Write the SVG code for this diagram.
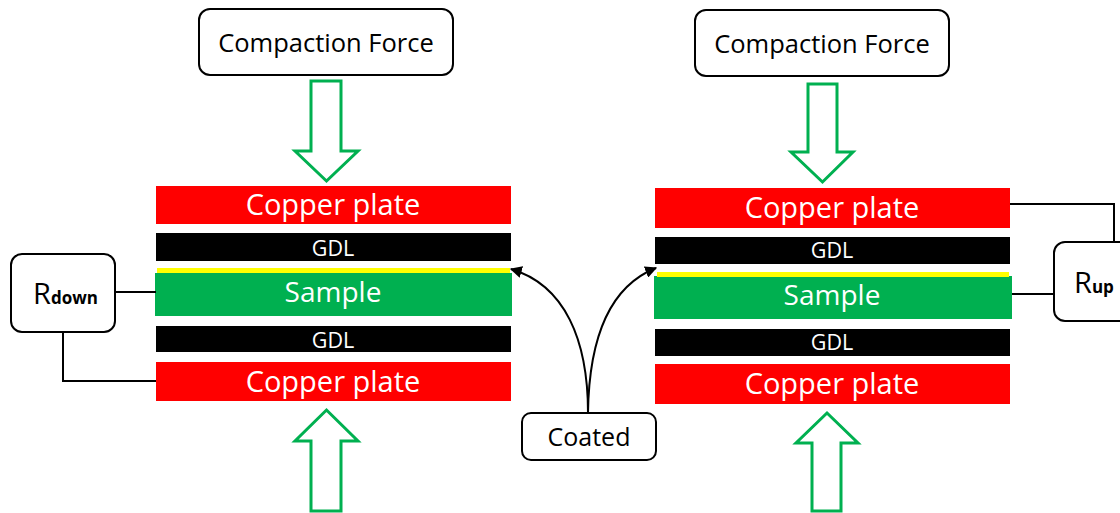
<svg xmlns="http://www.w3.org/2000/svg" width="1120" height="513" viewBox="0 0 1120 513">
  <defs>
    <style>
      .box { fill: #ffffff; stroke: #000000; stroke-width: 2; }
      .lbl { font-family: "Open Sans", "Liberation Sans", sans-serif; fill: #000000; text-anchor: middle; }
      .wlbl { font-family: "Open Sans", "Liberation Sans", sans-serif; fill: #ffffff; text-anchor: middle; }
      .cu { fill: #ff0000; }
      .gdl { fill: #000000; }
      .smp { fill: #00b050; }
      .coat { fill: #ffff00; }
      .force { fill: #ffffff; stroke: #00b050; stroke-width: 3; stroke-linejoin: miter; }
      .wire { fill: none; stroke: #000000; stroke-width: 2; }
      .curve { fill: none; stroke: #000000; stroke-width: 2; }
    </style>
    <marker id="tip" viewBox="0 0 10 10" refX="9" refY="5" markerWidth="6" markerHeight="6" orient="auto" markerUnits="strokeWidth">
      <path d="M0,0 L10,5 L0,10 z" fill="#000000"/>
    </marker>
  </defs>
  <rect width="1120" height="513" fill="#ffffff"/>

  <!-- Left stack (R down) -->
  <g id="force-top-left">
    <rect class="box" x="199" y="9" width="254" height="66" rx="11"/>
    <text class="lbl" x="326" y="52" font-size="25.5">Compaction Force</text>
  </g>
  <g id="arrow-down-left">
    <path class="force" d="M311,81 H341 V151 H358 L326.5,181 L295,151 H311 Z"/>
  </g>
  <g id="copper-top-left">
    <rect class="cu" x="156" y="186" width="355" height="38"/>
    <text class="wlbl" x="333" y="215" font-size="29">Copper plate</text>
  </g>
  <g id="gdl-top-left">
    <rect class="gdl" x="156" y="233" width="355" height="28"/>
    <text class="wlbl" x="333" y="256" font-size="21.5">GDL</text>
  </g>
  <g id="sample-left">
    <rect class="smp" x="155" y="273" width="357" height="43"/>
    <rect class="coat" x="157" y="268" width="353" height="5"/>
    <text class="wlbl" x="333" y="302" font-size="28">Sample</text>
  </g>
  <g id="gdl-bottom-left">
    <rect class="gdl" x="156" y="326" width="355" height="26"/>
    <text class="wlbl" x="333" y="348" font-size="21.5">GDL</text>
  </g>
  <g id="copper-bottom-left">
    <rect class="cu" x="156" y="362" width="355" height="39"/>
    <text class="wlbl" x="333" y="392" font-size="29">Copper plate</text>
  </g>
  <g id="arrow-up-left">
    <path class="force" d="M311,511 H341 V441 H358 L326.5,410 L295,441 H311 Z"/>
  </g>
  <g id="r-down">
    <rect class="box" x="11" y="254" width="104" height="78" rx="11"/>
    <text x="33" y="304" font-family="Open Sans, Liberation Sans, sans-serif" font-size="29" fill="#000000">R<tspan font-size="17" font-weight="bold">down</tspan></text>
  </g>

  <!-- Right stack (R up) -->
  <g id="force-top-right">
    <rect class="box" x="695" y="10" width="254" height="66" rx="11"/>
    <text class="lbl" x="822" y="53" font-size="25.5">Compaction Force</text>
  </g>
  <g id="arrow-down-right">
    <path class="force" d="M808,84 H837 V152 H853 L822.5,182 L791,152 H808 Z"/>
  </g>
  <g id="copper-top-right">
    <rect class="cu" x="655" y="188" width="355" height="40"/>
    <text class="wlbl" x="832" y="218" font-size="29">Copper plate</text>
  </g>
  <g id="gdl-top-right">
    <rect class="gdl" x="655" y="237" width="355" height="27"/>
    <text class="wlbl" x="832" y="258" font-size="21.5">GDL</text>
  </g>
  <g id="sample-right">
    <rect class="smp" x="654" y="276" width="358" height="43"/>
    <rect class="coat" x="657" y="272" width="352" height="5"/>
    <text class="wlbl" x="832" y="305" font-size="28">Sample</text>
  </g>
  <g id="gdl-bottom-right">
    <rect class="gdl" x="655" y="329" width="355" height="27"/>
    <text class="wlbl" x="832" y="350" font-size="21.5">GDL</text>
  </g>
  <g id="copper-bottom-right">
    <rect class="cu" x="655" y="364" width="355" height="40"/>
    <text class="wlbl" x="832" y="394" font-size="29">Copper plate</text>
  </g>
  <g id="arrow-up-right">
    <path class="force" d="M812,511 H841 V443 H858 L827,413 L796,443 H812 Z"/>
  </g>
  <g id="r-up">
    <rect class="box" x="1054" y="242" width="90" height="79" rx="11"/>
    <text x="1074" y="293" font-family="Open Sans, Liberation Sans, sans-serif" font-size="29" fill="#000000">R<tspan font-size="17" font-weight="bold">up</tspan></text>
  </g>

  <!-- Coating label -->
  <g id="coated">
    <rect class="box" x="522" y="413" width="134" height="47" rx="9"/>
    <text class="lbl" x="589" y="446" font-size="25">Coated</text>
  </g>

  <!-- Wires and pointer curves -->
  <g id="connectors">
    <path class="wire" d="M115,292 H156"/>
    <path class="wire" d="M63,332 V381 H156"/>
    <path class="wire" d="M1012,294 H1054"/>
    <path class="wire" d="M1010,204 H1114 V242"/>
    <path class="curve" d="M588,413 C588,340 565,285 511,269" marker-end="url(#tip)"/>
    <path class="curve" d="M588,413 C589,340 608,287 656,268" marker-end="url(#tip)"/>
  </g>
</svg>
